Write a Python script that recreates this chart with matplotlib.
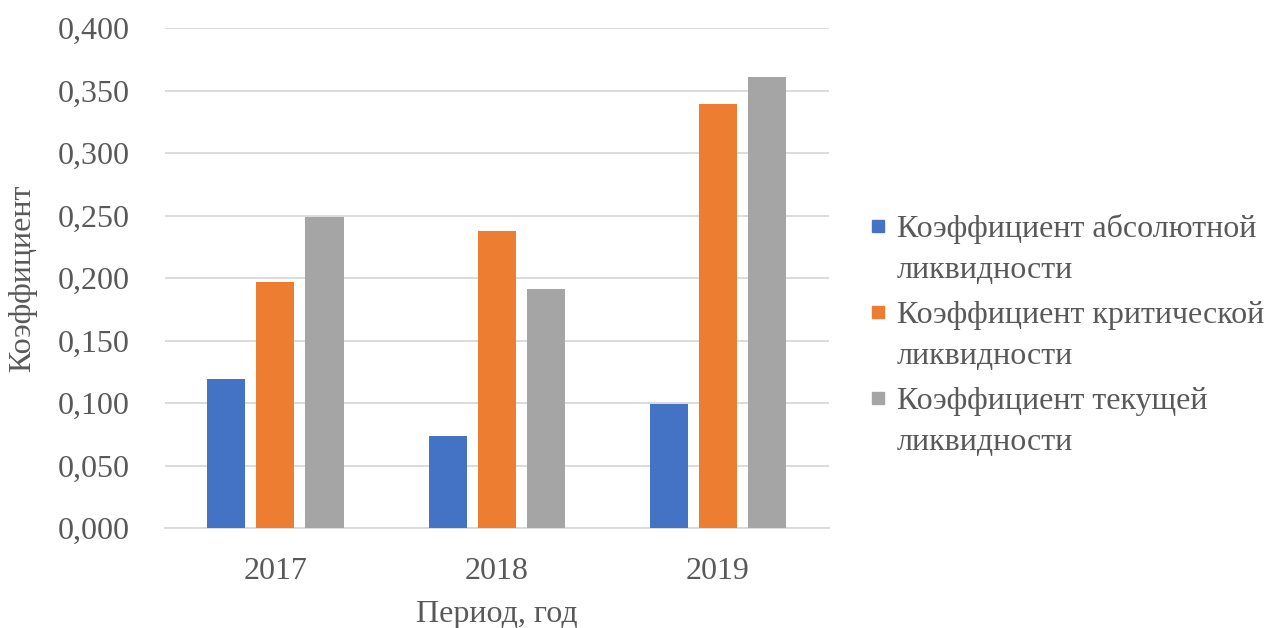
import numpy as np
import matplotlib.pyplot as plt
from matplotlib.patches import Rectangle

years = ['2017', '2018', '2019']
absolute = [0.119, 0.074, 0.099]
critical = [0.197, 0.238, 0.339]
current = [0.249, 0.191, 0.361]
labels = ['Коэффициент абсолютной\nликвидности',
          'Коэффициент критической\nликвидности',
          'Коэффициент текущей\nликвидности']
colors = ['#4472C4', '#ED7D31', '#A5A5A5']

plt.rcParams['font.family'] = ['Liberation Serif', 'DejaVu Serif']
txt = '#595959'
W, H = 1267, 628

fig = plt.figure(figsize=(W / 100, H / 100), dpi=100)
ax = fig.add_axes([0.130, 0.159, 0.524, 0.796])

x = np.arange(len(years))
w = 0.172
step = 0.222
for i, (vals, lab, c) in enumerate(zip([absolute, critical, current], labels, colors)):
    ax.bar(x + (i - 1) * step, vals, w, color=c, label=lab, zorder=3)

ax.set_xlim(-0.5, 2.5)
ax.set_ylim(0, 0.4)
ax.set_yticks(np.arange(0, 0.401, 0.05))
ax.set_yticklabels([f'{v:.3f}'.replace('.', ',') for v in np.arange(0, 0.401, 0.05)])
ax.set_xticks(x)
ax.set_xticklabels(years)
ax.grid(axis='y', color='#D9D9D9', linewidth=1.3, zorder=0)
for s in ['top', 'right', 'left']:
    ax.spines[s].set_visible(False)
ax.spines['bottom'].set_color('#D9D9D9')
ax.spines['bottom'].set_linewidth(1.3)
ax.tick_params(axis='both', length=0, labelsize=23, colors=txt)
ax.tick_params(axis='x', pad=21)
ax.tick_params(axis='y', pad=25)
ax.set_xlabel('Период, год', fontsize=23, color=txt, labelpad=10)
ax.set_ylabel('Коэффициент', fontsize=23, color=txt)
ax.yaxis.set_label_coords(-0.192, 0.5)

# legend: square next to the first line of each two-line label
for i, (lab, c) in enumerate(zip(labels, colors)):
    yc = 226 + 86 * i
    fig.add_artist(Rectangle(((872) / W, 1 - (yc + 6) / H), 12 / W, 12 / H,
                             transform=fig.transFigure, color=c))
    for j, line in enumerate(lab.split('\n')):
        fig.text(897 / W, 1 - (yc + 41 * j) / H, line, fontsize=23, color=txt,
                 va='center_baseline', ha='left')

fig.savefig('out.png', dpi=100)
